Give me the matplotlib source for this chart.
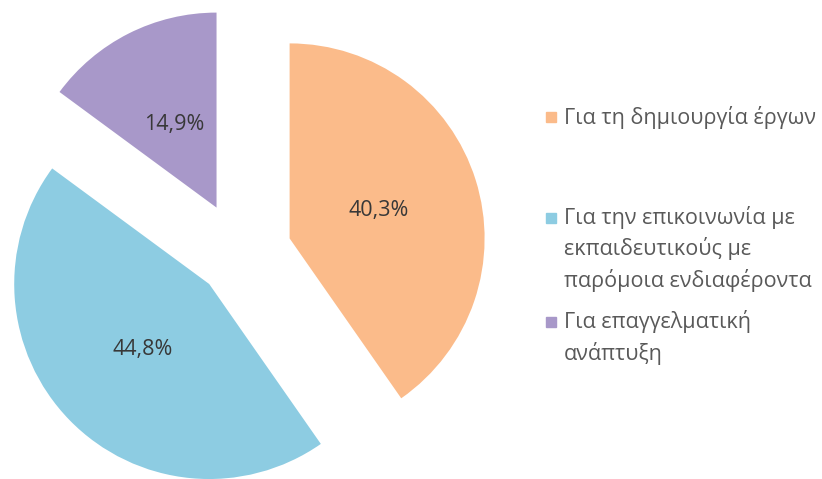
import matplotlib
matplotlib.use('Agg')
import matplotlib.pyplot as plt

plt.rcParams['font.family'] = ['Open Sans', 'DejaVu Sans']

# δεδομένα
labels = ['Για τη δημιουργία έργων',
          'Για την επικοινωνία με\nεκπαιδευτικούς με\nπαρόμοια ενδιαφέροντα',
          'Για επαγγελματική\nανάπτυξη']
values = [40.3, 44.8, 14.9]
colors = ['#FBBB8A', '#8DCCE2', '#A898C9']


def main():
    W, H = 822, 479
    fig = plt.figure(figsize=(W / 100, H / 100), dpi=100)
    ax = fig.add_axes([0, 0, 1, 1])

    # πίτα σε συντεταγμένες pixel (το explode είναι σε μονάδες δεδομένων)
    wedges, texts, autotexts = ax.pie(
        values, colors=colors, startangle=90, counterclock=False,
        explode=[52, 43, 52], radius=195, center=(240, H - 254),
        autopct=lambda p: f'{p:.1f}%'.replace('.', ','), pctdistance=0.48,
        textprops=dict(color='#383838', fontsize=15.5), frame=True)
    ax.set_xlim(0, W)
    ax.set_ylim(0, H)
    ax.axis('off')

    # υπόμνημα
    line_h = 31
    first_y = [117, 218, 322]
    for lab, col, y in zip(labels, colors, first_y):
        n = lab.count('\n')
        ax.plot(551, H - y, marker='s', markersize=7.5, color=col, ls='none')
        ax.text(564, H - y - n * line_h / 2, lab, va='center', ha='left',
                fontsize=15.5, color='#595959', linespacing=1.5)

    fig.savefig('out.png', dpi=100)


if __name__ == '__main__':
    main()
